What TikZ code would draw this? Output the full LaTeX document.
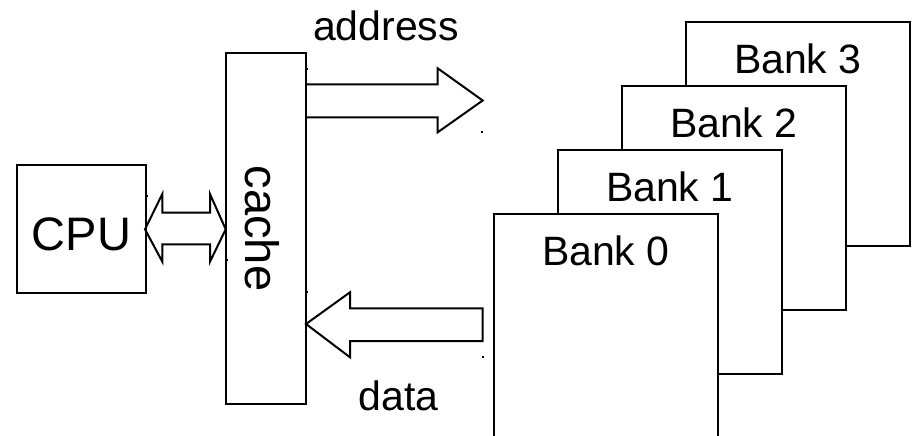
\documentclass[tikz,border=0pt]{standalone}
\usepackage{graphicx}
\usepackage{fontspec}
\setmainfont{Liberation Sans}
\begin{document}
\begin{tikzpicture}[x=1pt,y=-1pt,
  box/.style={draw,line width=2pt,fill=white,inner sep=0pt},
  bank/.style={box,minimum width=224.3pt,minimum height=224pt,anchor=north west},
  blk/.style={draw,line width=2pt,line join=miter},
  lbl/.style={font=\fontsize{41}{41}\selectfont,anchor=base,inner sep=0pt},
  banklbl/.style={font=\fontsize{41}{41}\selectfont,anchor=base,inner sep=0pt},
  big/.style={font=\fontsize{47}{47}\selectfont,anchor=base,inner sep=0pt},
  dotmark/.style={fill=black,inner sep=0pt,minimum size=2pt}]
\useasboundingbox (0,0) rectangle (913,436);
\clip (0,0) rectangle (913,436);
% banks
\node[bank] (b3) at (684.7,20.7) {};
\node[banklbl] (t3) at ([yshift=-52.7pt]b3.north) {Bank 3};
\node[bank] (b2) at (620.7,85) {};
\node[banklbl] (t2) at ([yshift=-52.7pt]b2.north) {Bank 2};
\node[bank] (b1) at (556.7,149) {};
\node[banklbl] (t1) at ([yshift=-52.7pt]b1.north) {Bank 1};
\node[bank,minimum height=228pt] (b0) at (492.7,212.7) {};
\node[banklbl] (t0) at ([yshift=-52.7pt]b0.north) {Bank 0};
% cache and cpu
\node[box,minimum width=80.3pt,minimum height=351.6pt] (cache) at (265.85,228.5) {};
\node[big,rotate=-90] (cachet) at (245,228.5) {cache};
\node[box,minimum width=128.4pt,minimum height=128.6pt] (cpu) at (81.5,229) {};
\node[big] (cput) at (81.5,250) {CPU};
% labels
\node[lbl] (addr) at (386,41) {address};
\node[lbl] (data) at (398.8,410.7) {data};
% block arrows
\draw[blk] (306,84.3) -- (437.7,84.3) -- (437.7,68.3) -- (482.7,100.5) -- (437.7,132.3) -- (437.7,117.3) -- (306,117.3);
\draw[blk] (145,229.3) -- (162.3,194) -- (162.3,212.7) -- (210,212.7) -- (210,194) -- (225.7,229.3) -- (210,261.7) -- (210,244.3) -- (162.3,244.3) -- (162.3,261.7) -- cycle;
\draw[blk] (306,324) -- (350,292.3) -- (350,308.3) -- (482.7,308.3) -- (482.7,341) -- (350,341) -- (350,357.3) -- cycle;
% small corner marks
\node[dotmark] (m1) at (306.7,69.3) {};
\node[dotmark] (m2) at (481.7,131.7) {};
\node[dotmark] (m3) at (146.7,195.5) {};
\node[dotmark] (m4) at (226.7,260) {};
\node[dotmark] (m5) at (306.7,292.3) {};
\node[dotmark] (m6) at (482.7,357.3) {};
\end{tikzpicture}
\end{document}
